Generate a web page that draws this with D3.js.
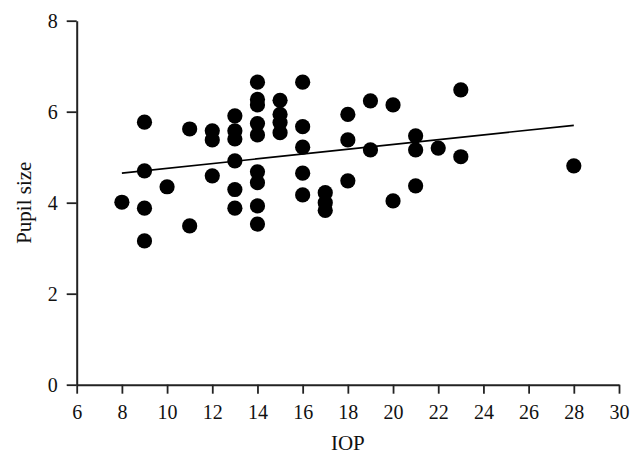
<!DOCTYPE html>
<html>
<head>
<meta charset="utf-8">
<script src="https://cdn.jsdelivr.net/npm/d3@7"></script>
<style>
  body { margin: 0; background: #fff; }
  text { font-family: "Liberation Serif", "DejaVu Serif", serif; fill: #111; }
</style>
</head>
<body>
<div id="chart"></div>
<script>
// IOP vs pupil size
const iop = [8, 9, 9, 9, 9, 10, 11, 11, 12, 12, 12,
    13, 13, 13, 13, 13, 13,
    14, 14, 14, 14, 14, 14, 14, 14, 14,
    15, 15, 15, 15,
    16, 16, 16, 16, 16,
    17, 17, 17, 18, 18, 18, 19, 19, 20, 20,
    21, 21, 21, 22, 23, 23, 28];
const pupil = [4.01, 5.77, 4.70, 3.88, 3.16, 4.35, 5.62, 3.49, 5.58, 5.38, 4.59,
    5.91, 5.58, 5.40, 4.92, 4.29, 3.88,
    6.65, 6.27, 6.15, 5.74, 5.49, 4.68, 4.44, 3.93, 3.53,
    6.25, 5.94, 5.76, 5.54,
    6.65, 5.67, 5.22, 4.65, 4.17,
    4.22, 4.00, 3.83, 5.94, 5.38, 4.48, 6.24, 5.16, 6.15, 4.04,
    5.47, 5.16, 4.37, 5.20, 6.48, 5.01, 4.81];

// fitted line end points as drawn
const fitX = [8, 28];
const fitY = [4.65, 5.70];

const xTicks = [6, 8, 10, 12, 14, 16, 18, 20, 22, 24, 26, 28, 30];
const yTicks = [0, 2, 4, 6, 8];

function drawChart() {
    const width = 642;
    const height = 463;
    const margin = { top: 20.7, right: 23, bottom: 78.3, left: 76.7 };

    const svg = d3.select('#chart').append('svg')
        .attr('width', width)
        .attr('height', height);

    const x = d3.scaleLinear().domain([6, 30])
        .range([margin.left, width - margin.right]);
    const y = d3.scaleLinear().domain([0, 8])
        .range([height - margin.bottom, margin.top]);

    // dots
    svg.append('g')
        .selectAll('circle')
        .data(iop.map((d, i) => [d, pupil[i]]))
        .enter()
        .append('circle')
        .attr('cx', d => x(d[0]))
        .attr('cy', d => y(d[1]))
        .attr('r', 7.6)
        .attr('fill', '#000');

    // regression line
    svg.append('line')
        .attr('x1', x(fitX[0]))
        .attr('y1', y(fitY[0]))
        .attr('x2', x(fitX[1]))
        .attr('y2', y(fitY[1]))
        .attr('stroke', '#000')
        .attr('stroke-width', 1.6);

    // axes
    const xAxis = svg.append('g')
        .attr('transform', `translate(0,${y(0)})`)
        .call(d3.axisBottom(x).tickValues(xTicks).tickSize(9).tickPadding(11).tickSizeOuter(0));
    const yAxis = svg.append('g')
        .attr('transform', `translate(${x(6)},0)`)
        .call(d3.axisLeft(y).tickValues(yTicks).tickSize(10).tickPadding(9).tickSizeOuter(0));

    [xAxis, yAxis].forEach(g => {
        g.select('.domain').attr('stroke', '#222').attr('stroke-width', 2);
        g.selectAll('.tick line').attr('stroke', '#222').attr('stroke-width', 1.8);
        g.selectAll('.tick text').style('font-size', '20px').attr('fill', '#111');
    });

    // axis titles
    svg.append('text')
        .attr('x', (x(6) + x(30)) / 2)
        .attr('y', 450)
        .attr('text-anchor', 'middle')
        .style('font-size', '21px')
        .text('IOP');

    svg.append('text')
        .attr('transform', `translate(31,${y(4)}) rotate(-90)`)
        .attr('text-anchor', 'middle')
        .style('font-size', '21px')
        .text('Pupil size');
}

drawChart();
</script>
</body>
</html>
